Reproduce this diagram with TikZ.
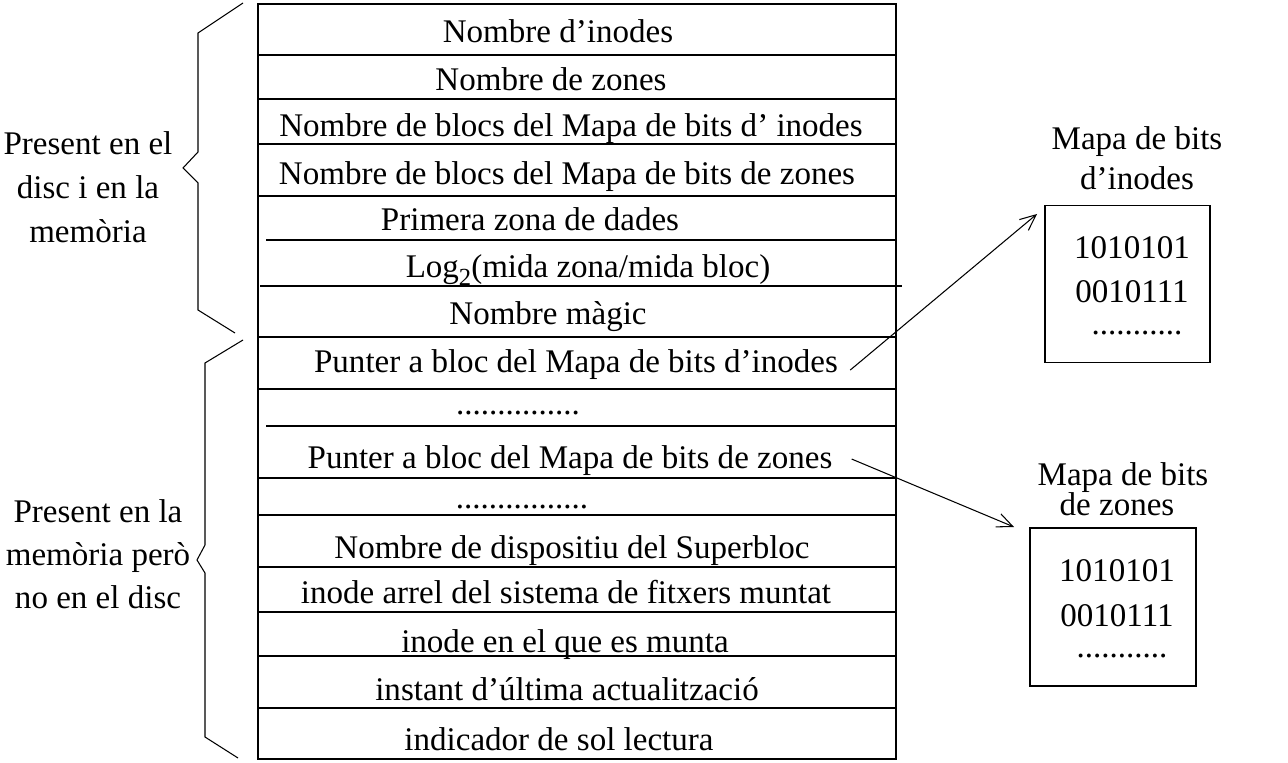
\documentclass[tikz,border=0pt]{standalone}
\usepackage{fontspec}
\setmainfont{Liberation Serif}
\usetikzlibrary{arrows.meta}

\begin{document}
\begin{tikzpicture}[x=0.02cm, y=-0.02cm,
    row/.style={inner sep=0pt, anchor=base, font=\fontsize{18.8}{22}\selectfont},
    sidetext/.style={row},
    mapbox/.style={draw, line width=0.8pt, inner sep=0pt},
    pointer/.style={-{Straight Barb[length=9pt, width=8pt]}, line width=0.6pt},
    brace/.style={line width=0.6pt}
    ]
    \useasboundingbox (0,0) rectangle (1288,763);

    % superbloc table
    \draw[line width=0.8pt] (258,4) rectangle (896,759);
    \foreach \y in {55,99,144,196,337,389,478,515,567,612,656,708} {
      \draw[line width=0.8pt] (258,\y) -- (896,\y);
    };
    \draw[line width=0.8pt] (266,240) -- (896,240);
    \draw[line width=0.8pt] (260,286) -- (902,286);
    \draw[line width=0.8pt] (266,426) -- (896,426);

    \node[row] (ninodes) at (558,43) {Nombre d’inodes};
    \node[row] (nzones) at (551,91) {Nombre de zones};
    \node[row] (nbinodes) at (571,137) {Nombre de blocs del Mapa de bits d’ inodes};
    \node[row] (nbzones) at (567,185) {Nombre de blocs del Mapa de bits de zones};
    \node[row] (primera) at (530,231) {Primera zona de dades};
    \node[row] (logzona) at (588,278) {Log\raisebox{-0.5ex}{\fontsize{14}{14}\selectfont 2}(mida zona/mida bloc)};
    \node[row] (magic) at (548,325) {Nombre màgic};
    \node[row] (pinodes) at (576,373) {Punter a bloc del Mapa de bits d’inodes};
    \node[row] (dotsA) at (518,415) {...............};
    \node[row] (pzones) at (570,468) {Punter a bloc del Mapa de bits de zones};
    \node[row] (dotsB) at (522,508) {................};
    \node[row] (dispositiu) at (572,558) {Nombre de dispositiu del Superbloc};
    \node[row] (arrel) at (566,603) {inode arrel del sistema de fitxers muntat};
    \node[row] (munta) at (565,652) {inode en el que es munta};
    \node[row] (instant) at (567,700) {instant d’última actualització};
    \node[row] (lectura) at (559,750) {indicador de sol lectura};

    % braces and side labels
    \draw[brace] (243,3) -- (198,33) -- (198,152) -- (183,168) -- (198,183) -- (198,310) -- (235,333);
    \draw[brace] (243,340) -- (205,363) -- (205,545) -- (197,560) -- (205,573) -- (205,737) -- (238,758);

    \foreach \t [count=\i] in {Present en el, disc i en la, memòria} {
      \node[sidetext] (discmem\i) at (88,111+44*\i) {\t};
    };
    \foreach \t [count=\i] in {Present en la, memòria però, no en el disc} {
      \node[sidetext] (nodisc\i) at (98,479+43*\i) {\t};
    };

    % bit maps
    \node[mapbox, minimum width=3.3cm, minimum height=3.14cm] (mapinodes) at (1127.5,284) {};
    \node[row] (titleinodesA) at (1137,150) {Mapa de bits};
    \node[row] (titleinodesB) at (1137,190) {d’inodes};
    \node[row] (bitsinodesA) at (1132,259) {1010101};
    \node[row] (bitsinodesB) at (1132,303) {0010111};
    \node[row] (bitsinodesC) at (1137,335) {...........};

    \node[mapbox, minimum width=3.32cm, minimum height=3.16cm] (mapzones) at (1113,607) {};
    \node[row] (titlezonesA) at (1123,485) {Mapa de bits};
    \node[row] (titlezonesB) at (1117,515) {de zones};
    \node[row] (bitszonesA) at (1117,581) {1010101};
    \node[row] (bitszonesB) at (1117,626) {0010111};
    \node[row] (bitszonesC) at (1122,657) {...........};

    \coordinate (tipinodes) at (1037,214);
    \coordinate (tipzones) at (1014,527);
    \draw[pointer] ([shift={(12,5)}]pinodes.east) -- (tipinodes);
    \draw[pointer] ([shift={(19,-1)}]pzones.east) -- (tipzones);
  \end{tikzpicture}
\end{document}
